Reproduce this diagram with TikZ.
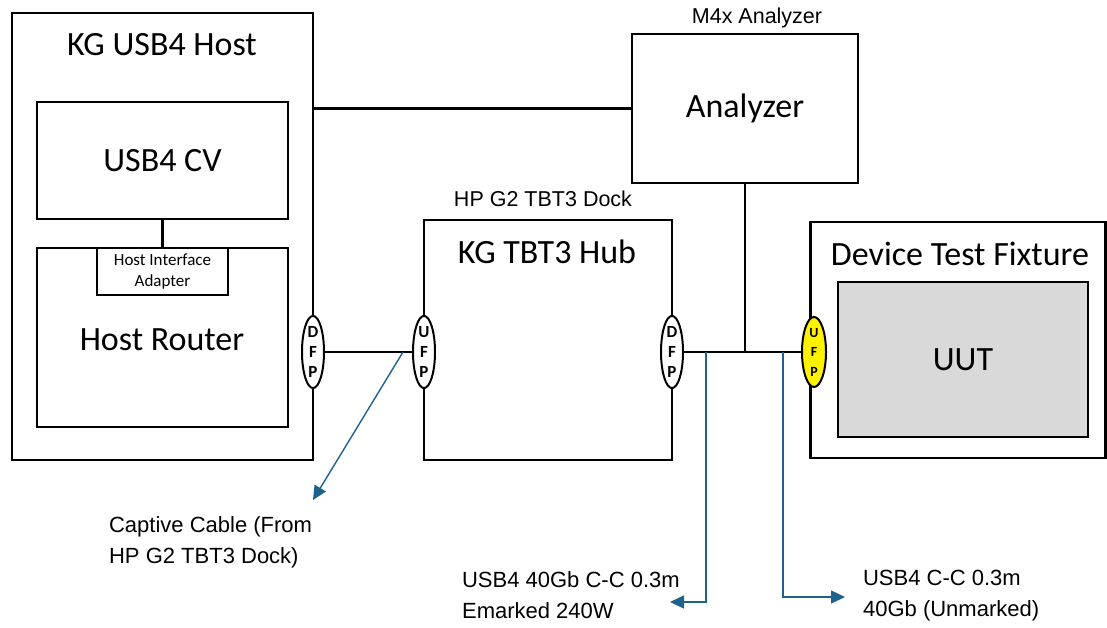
\documentclass[tikz,border=0pt]{standalone}
\usepackage{fontspec}
\setmainfont{Carlito}[BoldFont={Carlito Bold}]
\newfontfamily\notefont{Liberation Sans}
\usetikzlibrary{shapes.geometric,arrows.meta,positioning}
\definecolor{cableblue}{RGB}{31,99,140}
\definecolor{uutgray}{RGB}{217,217,217}

\begin{document}
\begin{tikzpicture}[x=1pt,y=-1pt,line width=2.2pt,
  box/.style={draw, rectangle, inner sep=0pt},
  title/.style={font=\fontsize{34}{38}\selectfont},
  port/.style={draw, ellipse, fill=white, inner sep=0pt, line width=2pt,
    minimum width=22pt, minimum height=70pt, align=center,
    font=\bfseries\fontsize{17}{20}\selectfont},
  cable/.style={draw=cableblue, line width=1.4pt, -{Triangle[length=14pt,width=13pt]}},
  note/.style={font=\notefont\fontsize{22}{31}\selectfont, align=left, anchor=west, inner sep=0pt}]

\useasboundingbox (0,0) rectangle (1107,628);

% host side
\node[box, minimum width=301pt, minimum height=447pt] (host) at (162.5,236.5) {};
\node[title] (hosttitle) at (162,45) {KG USB4 Host};
\node[box, minimum width=251pt, minimum height=117pt, title] (cv) at (162.5,160.5) {USB4 CV};
\node[box, minimum width=251pt, minimum height=179pt] (router) at (162.5,337.5) {};
\node[title] (routertitle) at (162,340) {Host Router};
\node[box, minimum width=131pt, minimum height=47pt, align=center,
  font=\fontsize{17}{21}\selectfont] (hia) at (162.5,271.5) {Host Interface\\Adapter};

% analyzer
\node[box, minimum width=226pt, minimum height=149pt, title] (analyzer) at (745,108.5) {Analyzer};
\node[font=\notefont\fontsize{21.5}{24}\selectfont] (m4x) at (757,18) {M4x Analyzer};

% hub
\node[box, minimum width=248pt, minimum height=240pt] (hub) at (548,340) {};
\node[title] (hubtitle) at (547,252) {KG TBT3 Hub};
\node[font=\notefont\fontsize{21.5}{24}\selectfont] (dock) at (543,199) {HP G2 TBT3 Dock};

% fixture
\node[box, minimum width=295pt, minimum height=236pt] (fixture) at (958,340) {};
\node[title] (fixturetitle) at (960,254) {Device Test Fixture};
\node[box, fill=uutgray, minimum width=250pt, minimum height=155pt, title] (uut) at (963,359.5) {UUT};

% ports
\node[port] (dfpA) at (313,352) {D\\F\\P};
\node[port] (ufpB) at (424,352) {U\\F\\P};
\node[port] (dfpB) at (672,352) {D\\F\\P};
\node[port, fill=yellow, minimum width=24pt,
  font=\bfseries\fontsize{14}{19.5}\selectfont] (ufpC) at (814,352) {U\\F\\P};

% links
\draw (cv) -- (hia);
\draw (analyzer.west -| host.east) -- (analyzer.west);
\draw (dfpA) -- (ufpB);
\draw (dfpB) -- (ufpC);
\coordinate (tap) at (analyzer.south |- dfpB.east);
\draw (analyzer.south) -- (tap);

% cable callouts
\coordinate (capfrom) at (403,352);
\coordinate (capto) at (313,500);
\coordinate (emfrom) at (706,352);
\coordinate (emto) at (670,602);
\coordinate (unfrom) at (783,352);
\coordinate (unto) at (845,597);
\draw[cable] (capfrom) -- (capto);
\draw[cable] (emfrom) |- (emto);
\draw[cable] (unfrom) |- (unto);

\node[note] (capnote) at (108,542.5) {Captive Cable (From\\HP G2 TBT3 Dock)};
\node[note] (emnote) at (461,595) {USB4 40Gb C-C 0.3m\\Emarked 240W};
\node[note] (unnote) at (862,595.5) {USB4 C-C 0.3m\\40Gb (Unmarked)};
\end{tikzpicture}
\end{document}
